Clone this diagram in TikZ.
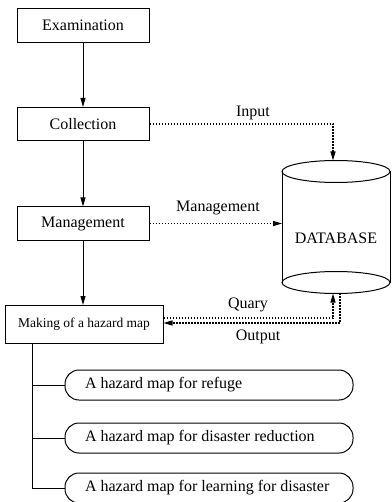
\documentclass[tikz,border=0pt]{standalone}
\usepackage{fontspec}
\setmainfont{Liberation Serif}
\usetikzlibrary{arrows.meta,calc}
\newcommand{\pilltext}[1]{\makebox[248pt][l]{#1}}
\begin{document}
\begin{tikzpicture}[x=1pt,y=1pt,
  font=\fontsize{16}{19}\selectfont,
  box/.style={draw,line width=1pt,minimum width=132pt,minimum height=34pt,inner sep=0pt},
  pill/.style={draw,line width=1pt,rounded corners=14pt,inner xsep=20pt,inner ysep=0pt,minimum height=30pt},
  flow/.style={line width=0.9pt,-{Triangle[length=9pt,width=5pt]}},
  dat/.style={line width=1.1pt,dash pattern=on 1.6pt off 1.4pt,-{Triangle[length=9pt,width=5pt]}},
  lbl/.style={inner sep=0pt}]
\useasboundingbox (0,0) rectangle (391,-502);
\node[box] (exam) at (83,-25.5) {Examination};
\node[box,minimum height=33pt] (coll) at (83,-124) {Collection};
\node[box,minimum height=33pt] (mgmt) at (83,-223.5) {Management};
\node[box,minimum width=158pt,minimum height=38pt,font=\fontsize{13.5}{16}\selectfont] (make) at (84,-324) {Making of a hazard map};
% database cylinder
\draw[line width=1pt] (282,-171.5) -- (282,-282.5);
\draw[line width=1pt] (390,-171.5) -- (390,-282.5);
\draw[line width=1pt] (336,-171.5) ellipse[x radius=54,y radius=11];
\draw[line width=1pt] (336,-282.5) ellipse[x radius=54,y radius=11];
\node[lbl] (db) at (336,-238) {DATABASE};
\coordinate (dbtop) at (333,-160.5);
\coordinate (dbleft) at (282,-223.5);
\coordinate (dbq) at (333,-293.5);
\coordinate (dbo) at (340,-293.3);
% main flow
\draw[flow] (exam.south) -- (coll.north);
\draw[flow] (coll.south) -- (mgmt.north);
\draw[flow] (mgmt.south) -- (83,-305);
% data links
\draw[dat] (coll.east) -- (333,-124) -- (dbtop);
\node[lbl] (inlbl) at (253,-113) {Input};
\draw[dat] (mgmt.east) -- (dbleft);
\node[lbl] (mglbl) at (218,-208) {Management};
\draw[dat] ([yshift=6pt]make.east) -- (333,-318) -- (dbq);
\node[lbl] (qlbl) at (248,-305) {Quary};
\draw[dat] (dbo) -- (340,-323) -- ([yshift=1pt]make.east);
\node[lbl] (olbl) at (258,-337) {Output};
% outputs
\node[pill] (p1) at (209,-385) {\pilltext{A hazard map for refuge}};
\node[pill] (p2) at (209,-438) {\pilltext{A hazard map for disaster reduction}};
\node[pill] (p3) at (209,-488) {\pilltext{A hazard map for learning for disaster}};
\draw[line width=1pt] ([xshift=28pt]make.south west) |- (p3.west);
\draw[line width=1pt] (33,-385) -- (p1.west);
\draw[line width=1pt] (33,-438) -- (p2.west);
\end{tikzpicture}
\end{document}
